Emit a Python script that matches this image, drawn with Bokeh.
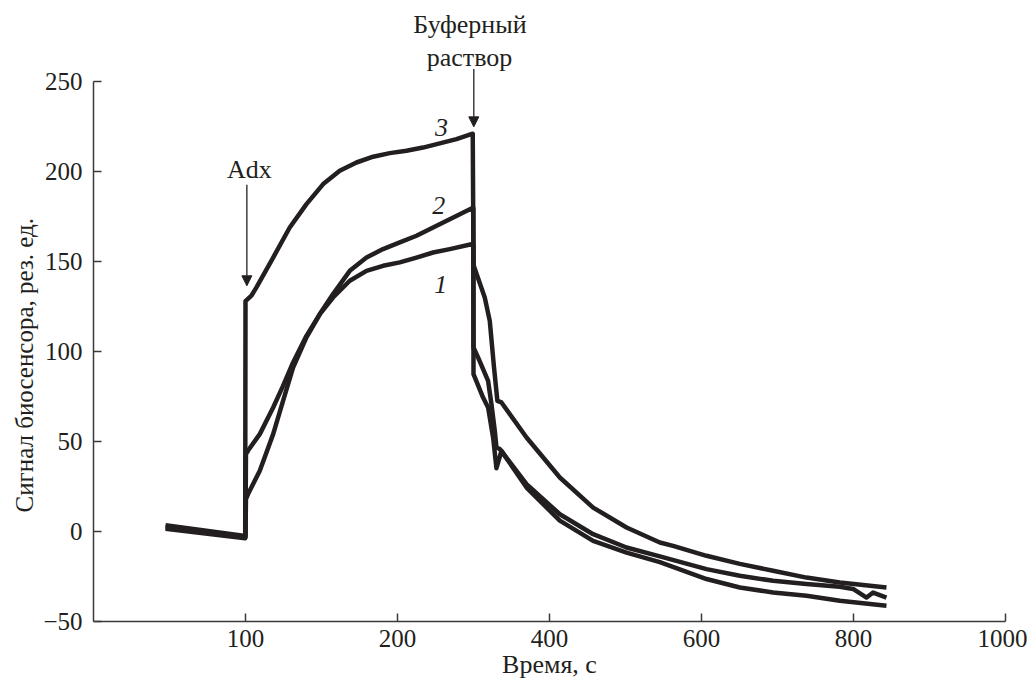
from bokeh.plotting import figure
from bokeh.models import Range1d, FixedTicker, Label, Arrow, NormalHead, Title
from bokeh.embed import file_html
from bokeh.resources import INLINE

# ---- data (x in axis units: ticks 100..600 are labelled 100,200,400,600,800,1000) ----
x_tick_pos = [100, 200, 300, 400, 500, 600]
x_tick_lab = ["100", "200", "400", "600", "800", "1000"]
y_ticks = [-50, 0, 50, 100, 150, 200, 250]

x1 = [47.4, 99.8, 100.0, 100.3, 101.7, 109.4, 118.2, 124.7, 131.3, 140.1, 148.9, 157.6, 168.6,
      179.6, 190.5, 201.5, 212.5, 223.4, 234.4, 249.3, 249.9, 250.0, 256.3, 259.6, 262.9, 265.1,
      268.4, 284.9, 306.8, 328.7, 350.7, 372.6, 403.3, 425.2, 447.1, 469.1, 491.0, 521.7]
y1 = [3.5, -2.5, -2.5, 18.0, 20.8, 33.7, 54.1, 72.6, 91.1, 107.8, 120.8, 130.0, 139.3,
      144.8, 147.6, 149.5, 152.2, 155.0, 156.9, 159.7, 159.7, 87.4, 74.4, 68.9, 52.2, 35.2,
      44.8, 24.4, 6.0, -5.2, -11.7, -17.0, -26.4, -31.1, -33.9, -35.7, -38.5, -41.3]

x2 = [47.4, 99.8, 100.0, 100.3, 101.7, 109.4, 118.2, 124.7, 131.3, 140.1, 148.9, 157.6, 168.6,
      179.6, 190.5, 201.5, 212.5, 223.4, 234.4, 249.3, 249.9, 250.0, 253.0, 259.6, 261.8, 264.0,
      265.1, 267.3, 284.9, 306.8, 328.7, 350.7, 372.6, 403.3, 425.2, 447.1, 469.1, 491.0, 499.7,
      508.6, 512.9, 521.7]
y2 = [2.5, -3.0, -3.0, 43.0, 45.0, 54.1, 68.9, 80.9, 93.9, 108.7, 120.8, 131.9, 144.8,
      152.2, 156.9, 160.6, 164.3, 168.9, 173.5, 179.7, 179.7, 102.2, 96.7, 83.7, 70.8, 56.0,
      46.7, 45.8, 26.3, 9.6, -1.5, -8.9, -13.8, -20.9, -24.6, -27.4, -29.2, -30.7, -31.9,
      -36.7, -33.9, -36.7]

x3 = [47.4, 99.8, 100.0, 103.9, 107.2, 118.2, 129.1, 140.1, 151.1, 162.0, 173.0, 184.0, 194.9,
      205.9, 216.8, 227.8, 238.8, 249.5, 250.0, 257.4, 260.7, 263.4, 265.7, 268.4, 284.9, 306.8,
      328.7, 350.7, 372.6, 381.3, 403.3, 425.2, 447.1, 469.1, 491.0, 521.7]
y3 = [1.5, -3.8, 128.0, 131.0, 135.6, 152.2, 168.9, 181.9, 193.0, 200.4, 205.0, 208.2, 210.2,
      211.5, 213.3, 215.6, 218.0, 221.0, 148.0, 130.0, 117.0, 92.0, 72.6, 71.7, 52.2, 30.0,
      13.3, 2.2, -6.1, -8.0, -13.5, -18.0, -21.8, -25.6, -28.3, -31.1]

curve_names = ["1", "2", "3"]
curve_label_x = [228.5, 227.2, 229.0]
curve_label_y = [137.4, 180.9, 224.7]

INK = "#231f20"
FONT = "Liberation Serif"

p = figure(frame_width=912, frame_height=612, output_backend="svg", toolbar_location=None,
           x_range=Range1d(0, 600), y_range=Range1d(-50, 290),
           min_border_left=93, min_border_top=9, min_border_right=22, min_border_bottom=58)
p.outline_line_color = None
p.grid.visible = False
p.background_fill_color = "white"
p.border_fill_color = "white"

for xs, ys in [(x1, y1), (x2, y2), (x3, y3)]:
    p.line(xs, ys, line_color=INK, line_width=4.5, line_join="round")

for ax in (p.xaxis[0], p.yaxis[0]):
    ax.axis_line_color = "#3a3a3a"
    ax.axis_line_width = 1.5
    ax.major_tick_line_color = "#3a3a3a"
    ax.major_tick_line_width = 1.5
    ax.major_tick_in = 8
    ax.major_tick_out = 0
    ax.minor_tick_line_color = None
    ax.major_label_text_font = FONT
    ax.major_label_text_font_size = "25px"
    ax.major_label_text_color = INK
    ax.axis_label_text_font = FONT
    ax.axis_label_text_font_style = "normal"
    ax.axis_label_text_color = INK

p.xaxis.ticker = FixedTicker(ticks=x_tick_pos)
p.xaxis.major_label_overrides = dict(zip(x_tick_pos, x_tick_lab))
p.xaxis.major_label_standoff = 8
p.xaxis.axis_label = "Время, с"
p.xaxis.axis_label_text_font_size = "26px"
p.xaxis.axis_label_standoff = 0

p.yaxis.ticker = FixedTicker(ticks=y_ticks)
p.yaxis.bounds = (-50, 250)
p.yaxis.major_label_overrides = {-50: "\u221250"}
p.yaxis.major_label_standoff = 11

# y-axis title, anchored from the bottom so it is centred on the -50..250 span
p.add_layout(Title(text="Сигнал биосенсора, рез. ед.", align="left", offset=109,
                   text_font=FONT, text_font_size="25px", text_font_style="normal",
                   text_color=INK, standoff=6), "left")

# curve numbers
for name, lx, ly in zip(curve_names, curve_label_x, curve_label_y):
    p.add_layout(Label(x=lx, y=ly, text=name, text_font=FONT, text_font_size="26px",
                       text_font_style="italic", text_color=INK,
                       text_align="center", text_baseline="middle"))

# annotations
p.add_layout(Label(x=102.5, y=201.2, text="Adx", text_font=FONT, text_font_size="26px",
                   text_color=INK, text_align="center", text_baseline="middle"))
p.add_layout(Arrow(x_start=100.9, y_start=192.6, x_end=100.9, y_end=136.5,
                   line_color=INK, line_width=1.3,
                   end=NormalHead(size=10, fill_color=INK, line_color=INK, line_width=1)))

p.add_layout(Label(x=247.7, y=281.5, text="Буферный", text_font=FONT, text_font_size="26px",
                   text_color=INK, text_align="center", text_baseline="middle"))
p.add_layout(Label(x=247.4, y=263.2, text="раствор", text_font=FONT, text_font_size="26px",
                   text_color=INK, text_align="center", text_baseline="middle"))
p.add_layout(Arrow(x_start=250.2, y_start=257.0, x_end=250.2, y_end=224.8,
                   line_color=INK, line_width=1.3,
                   end=NormalHead(size=10, fill_color=INK, line_color=INK, line_width=1)))

open("out.html", "w").write(file_html(p, INLINE))
